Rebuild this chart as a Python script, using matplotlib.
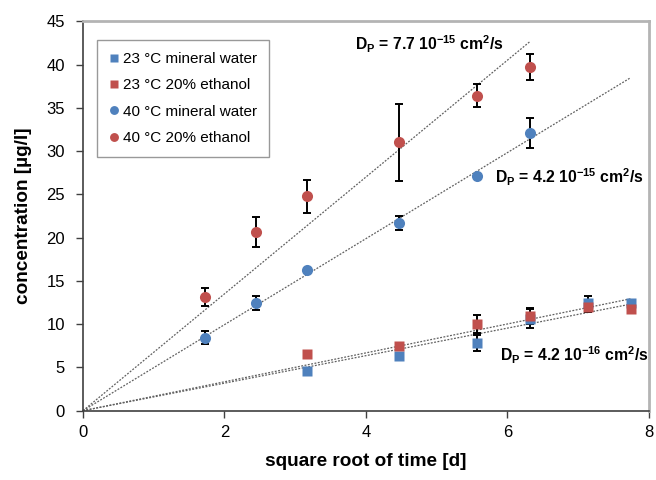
import matplotlib.pyplot as plt
import numpy as np

plt.rcParams['font.family'] = ['Liberation Sans', 'DejaVu Sans']
plt.rcParams['mathtext.default'] = 'regular'

# sqrt of time in days
days = np.array([3, 6, 10, 20, 31, 40, 51, 60])
x = np.sqrt(days)

# 23 °C (squares) - points from 10 days on
x23 = x[2:]
mw23 = [4.6, 6.3, 7.8, 10.6, 12.5, 12.5]
mw23_err = [0, 0, 0.95, 1.1, 0.7, 0]
et23 = [6.6, 7.5, 10.05, 10.95, 12.0, 11.7]
et23_err = [0, 0, 1.05, 0.95, 0.6, 0.45]

# 40 °C (circles) - up to 40 days
x40 = x[:6]
mw40 = [8.45, 12.45, 16.25, 21.7, 27.1, 32.1]
mw40_err = [0.8, 0.85, 0, 0.8, 0, 1.75]
et40 = [13.1, 20.65, 24.8, 31.0, 36.4, 39.75]
et40_err = [1.05, 1.7, 1.9, 4.5, 1.3, 1.5]

# slopes of the fitted lines through the origin
fits = [(6.75, x[5]), (4.97, x[7]), (1.67, x[7]), (1.59, x[7])]

blue = '#4F81BD'
red = '#C0504D'

fig = plt.figure(figsize=(6.56, 4.8), dpi=100)
ax = fig.add_axes([0.1265, 0.1444, 0.8625, 0.8112])

for k, xmax in fits:
    xx = np.array([0, xmax])
    ax.plot(xx, k * xx, color='#606060', lw=0.9, ls=(0, (1.5, 1.2)), zorder=1)

eb = dict(fmt='none', ecolor='black', elinewidth=1.4, capsize=3, capthick=1.4, zorder=2)
ax.errorbar(x23, mw23, yerr=mw23_err, **eb)
ax.errorbar(x23, et23, yerr=et23_err, **eb)
ax.errorbar(x40, mw40, yerr=mw40_err, **eb)
ax.errorbar(x40, et40, yerr=et40_err, **eb)

ax.plot(x23, mw23, 's', color=blue, ms=7, mec='none', label='23 °C mineral water', zorder=3)
ax.plot(x23, et23, 's', color=red, ms=7, mec='none', label='23 °C 20% ethanol', zorder=3)
ax.plot(x40, mw40, 'o', color=blue, ms=8, mec='none', label='40 °C mineral water', zorder=3)
ax.plot(x40, et40, 'o', color=red, ms=8, mec='none', label='40 °C 20% ethanol', zorder=3)

ax.set_xlim(0, 8)
ax.set_ylim(0, 45)
ax.set_xticks([0, 2, 4, 6, 8])
ax.set_yticks(range(0, 46, 5))
ax.tick_params(labelsize=12, length=5, width=1, color='#404040')
ax.tick_params(axis='x', pad=5)
ax.tick_params(axis='y', pad=8)
for s in ['left', 'bottom']:
    ax.spines[s].set_color('#404040')
    ax.spines[s].set_linewidth(1.2)
for s in ['top', 'right']:
    ax.spines[s].set_color('#b4b4b4')
    ax.spines[s].set_linewidth(2)

ax.set_xlabel('square root of time [d]', fontsize=13.7, fontweight='bold', labelpad=10)
ax.set_ylabel('concentration [µg/l]', fontsize=13.7, fontweight='bold', labelpad=10)

leg = ax.legend(loc='upper left', bbox_to_anchor=(0.025, 0.952), borderaxespad=0,
                fontsize=11, frameon=True, fancybox=False, handlelength=0.6,
                handletextpad=0.3, labelspacing=0.8, borderpad=0.8, markerscale=0.8)
leg.get_frame().set_edgecolor('#808080')
leg.get_frame().set_linewidth(1)

tk = dict(fontsize=11.3, fontweight='bold')
ax.text(3.84, 42.4, 'D$_P$ = 7.7 10$^{-15}$ cm$^2$/s', va='center', **tk)
ax.text(5.82, 27.0, 'D$_P$ = 4.2 10$^{-15}$ cm$^2$/s', va='center', **tk)
ax.text(5.89, 6.4, 'D$_P$ = 4.2 10$^{-16}$ cm$^2$/s', va='center', **tk)

plt.savefig('out.png', dpi=100)
